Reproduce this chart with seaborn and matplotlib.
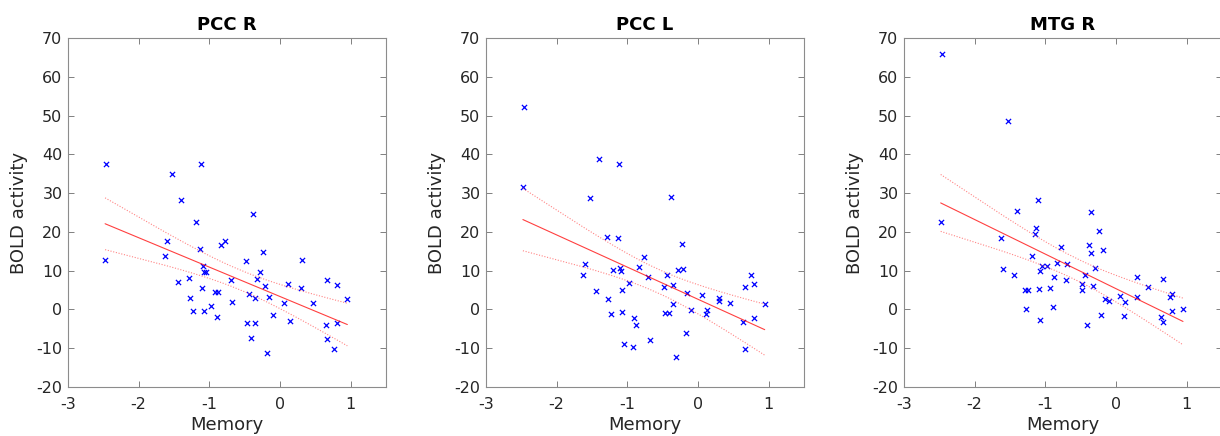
import numpy as np
import pandas as pd
import seaborn as sns
import matplotlib
matplotlib.use('Agg')
import matplotlib.pyplot as plt

# values
titles = ['PCC R', 'PCC L', 'MTG R']

pcc_r_memory = [-2.456, -2.475, -1.53, -1.40, -1.605, -1.624, -1.123, -1.194, -1.132, -1.085,
                -1.076, -1.047, -1.44, -1.29, -1.10, -1.27, -1.236, -1.07, -0.976, -0.92,
                -0.88, -0.896, -0.835, -0.773, -0.70, -0.683, -0.475, -0.385, -0.437, -0.352,
                -0.47, -0.35, -0.414, -0.29, -0.32, -0.234, -0.215, -0.16, -0.092, -0.177,
                0.054, 0.116, 0.135, 0.31, 0.295, 0.461, 0.66, 0.80, 0.645, 0.669,
                0.80, 0.764, 0.953]
pcc_r_bold = [37.5, 12.8, 34.8, 28.2, 17.7, 13.9, 37.4, 22.6, 15.5, 11.3,
              9.7, 9.7, 7.0, 8.0, 5.5, 3.0, -0.3, -0.3, 0.8, 4.5,
              4.5, -1.9, 16.6, 17.6, 7.7, 1.8, 12.6, 24.5, 3.9, 3.0,
              -3.4, -3.4, -7.4, 9.7, 7.9, 14.7, 6.0, 3.3, -1.4, -11.3,
              1.6, 6.6, -2.9, 12.8, 5.6, 1.6, 7.5, 6.2, -4.1, -7.6,
              -3.5, -10.3, 2.8]

pcc_l_memory = [-2.459, -2.478, -1.395, -1.118, -1.527, -0.384, -1.292, -1.132, -0.233, -1.60,
                -1.626, -1.198, -1.10, -1.085, -0.769, -0.835, -0.704, -0.44, -0.29, -0.214,
                -1.442, -1.075, -0.976, -1.268, -1.235, -1.07, -0.901, -0.882, -1.047, -0.925,
                -0.685, -0.482, -0.35, -0.36, -0.473, -0.416, -0.318, -0.162, -0.176, -0.096,
                0.054, 0.129, 0.11, 0.30, 0.295, 0.459, 0.755, 0.661, 0.793, 0.642,
                0.798, 0.661, 0.944]
pcc_l_bold = [52.2, 31.7, 38.8, 37.4, 28.7, 29.1, 18.7, 18.5, 16.8, 11.8,
              9.0, 10.3, 10.7, 9.9, 13.4, 10.9, 8.4, 8.8, 10.3, 10.4,
              4.7, 5.0, 6.7, 2.7, -1.1, -0.6, -2.2, -4.1, -8.9, -9.8,
              -7.8, 5.8, 6.4, 1.5, -0.8, -0.8, -12.2, 4.3, -6.2, -0.1,
              3.6, -0.1, -1.1, 2.9, 2.3, 1.6, 9.0, 5.8, 6.5, -3.2,
              -2.1, -10.3, 1.4]

mtg_r_memory = [-2.467, -2.481, -1.533, -1.108, -1.40, -0.358, -1.127, -1.142, -0.236, -1.627,
                -0.778, -0.387, -0.179, -0.354, -1.193, -1.604, -1.439, -1.08, -1.047, -0.981,
                -0.84, -0.689, -0.292, -0.882, -0.708, -0.439, -0.48, -0.48, -0.321, -1.288,
                -1.24, -1.085, -0.929, -1.274, -0.896, -1.071, -0.415, -0.217, -0.156, -0.099,
                0.057, 0.132, 0.113, 0.302, 0.292, 0.458, 0.665, 0.759, 0.797, 0.797,
                0.948, 0.637, 0.665]
mtg_r_bold = [65.9, 22.6, 48.6, 28.1, 25.3, 25.1, 20.9, 19.4, 20.3, 18.4,
              16.1, 16.5, 15.3, 14.5, 13.7, 10.4, 8.8, 10.0, 11.3, 11.1,
              12.1, 11.8, 10.8, 8.4, 7.7, 9.0, 6.6, 5.1, 6.0, 4.9,
              4.9, 5.3, 5.5, 0.0, 0.6, -2.7, -4.1, -1.4, 2.7, 2.2,
              3.4, 2.0, -1.6, 8.3, 3.1, 5.9, 7.9, 3.1, 4.1, -0.3,
              0.2, -2.0, -3.2]

memory = [pcc_r_memory, pcc_l_memory, mtg_r_memory]
bold = [pcc_r_bold, pcc_l_bold, mtg_r_bold]

sns.set_theme(style='white')
plt.rcParams['font.family'] = ['DejaVu Sans']
plt.rcParams['axes.unicode_minus'] = False

fig = plt.figure(figsize=(12.2, 4.36), dpi=100)
lefts = [68, 486, 904]
axes = [fig.add_axes([l / 1220, 49 / 436, 318 / 1220, 349 / 436]) for l in lefts]

for ax, title, xs, ys in zip(axes, titles, memory, bold):
    df = pd.DataFrame({'Memory': xs, 'BOLD': ys})
    sns.scatterplot(data=df, x='Memory', y='BOLD', marker='x', color='#0000ff',
                    s=14, linewidth=0.9, ax=ax)

    # least squares fit and 95% confidence band of the mean
    x = np.sort(np.array(xs))
    xa, ya = np.array(xs), np.array(ys)
    n = len(xa)
    slope, intercept = np.polyfit(xa, ya, 1)
    fit = intercept + slope * x
    resid = ya - (intercept + slope * xa)
    s = np.sqrt(np.sum(resid ** 2) / (n - 2))
    se = s * np.sqrt(1 / n + (x - xa.mean()) ** 2 / np.sum((xa - xa.mean()) ** 2))
    ax.plot(x, fit, color='#ff0000', lw=0.8, alpha=0.75)
    ax.plot(x, fit + 2.007 * se, color='#ff6666', lw=0.8, ls=(0, (1, 1.5)), alpha=0.8)
    ax.plot(x, fit - 2.007 * se, color='#ff6666', lw=0.8, ls=(0, (1, 1.5)), alpha=0.8)

    ax.set_xlim(-3, 1.5)
    ax.set_ylim(-20, 70)
    ax.set_xticks([-3, -2, -1, 0, 1])
    ax.set_yticks(range(-20, 71, 10))
    ax.set_title(title, fontsize=13, fontweight='bold', color='black', pad=6)
    ax.set_xlabel('Memory', fontsize=13, color='#262626', labelpad=3)
    ax.set_ylabel('BOLD activity', fontsize=13, color='#262626', labelpad=6)
    ax.tick_params(direction='in', length=4, width=0.7, color='#808080',
                   labelsize=11.5, labelcolor='#262626', top=True, right=True,
                   bottom=True, left=True)
    ax.tick_params(axis='x', pad=7)
    ax.tick_params(axis='y', pad=4)
    for sp in ax.spines.values():
        sp.set_color('#8c8c8c')
        sp.set_linewidth(0.8)

fig.savefig('out.png', dpi=100)
